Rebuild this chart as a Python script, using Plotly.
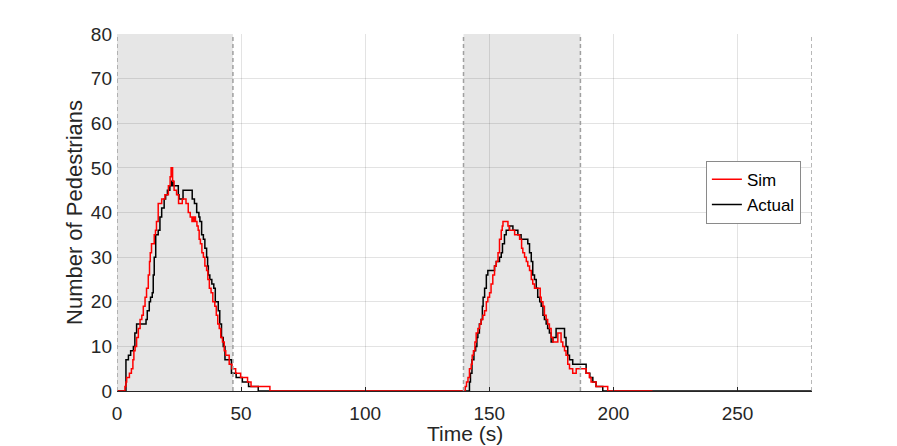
import plotly.graph_objects as go

# Simulated counts (step data, time in s)
sim_t = [0, 3.2, 3.6, 3.9, 5.0, 5.8, 6.4, 6.8, 7.3, 7.9, 8.6, 9.3, 10.0, 10.6, 11.3, 11.9,
         12.6, 13.1, 13.4, 13.9, 15.0, 15.5, 15.9, 16.6, 18.0, 19.3, 20.7, 21.4, 21.8, 22.4,
         23.0, 24.0, 24.8, 26.3, 27.8, 28.7, 29.5, 30.2, 30.5, 30.8, 31.2, 31.6, 32.2, 32.7,
         33.1, 33.6, 34.2, 34.8, 35.4, 36.1, 36.6, 37.2, 37.9, 38.6, 39.4, 40.0, 40.6, 41.2,
         41.8, 42.5, 43.2, 43.8, 45.2, 46.3, 47.8, 49.8, 52.6, 54.0, 61.6,
         140.3, 140.8, 141.4, 142.0, 142.7, 143.1, 143.6, 144.2, 144.7, 145.4, 146.1, 146.7,
         147.4, 148.1, 148.8, 149.4, 150.1, 150.7, 151.4, 152.1, 152.8, 153.5, 154.1, 154.8,
         155.2, 155.5, 157.5, 158.1, 160.2, 162.2, 163.0, 163.5, 164.2, 164.9, 165.5, 166.2,
         166.9, 167.5, 168.2, 170.5, 170.9, 171.6, 172.2, 172.9, 173.5, 174.2, 174.9, 175.6,
         177.6, 178.9, 179.6, 180.3, 180.9, 181.6, 182.3, 183.6, 185.0, 189.0, 190.3, 191.0,
         193.0, 197.7, 215.7]
sim_n = [0, 1, 2, 3, 4, 5, 7, 9, 10, 12, 14, 16, 17, 19, 21, 23,
         26, 29, 31, 33, 35, 36, 38, 42, 43, 44, 46, 48, 50, 47,
         45, 44, 42, 43, 42, 40, 39, 38, 39, 38, 39, 38, 37, 36,
         34, 33, 31, 30, 28, 27, 25, 23, 22, 20, 19, 17, 15, 14,
         12, 11, 9, 8, 6, 5, 4, 3, 2, 1, 0,
         1, 2, 3, 5, 6, 8, 9, 11, 13, 14, 15, 16,
         17, 18, 20, 21, 22, 24, 26, 28, 29, 31, 34, 36,
         37, 38, 37, 36, 35, 34, 32, 31, 30, 29, 28, 27,
         25, 24, 23, 21, 20, 19, 17, 16, 15, 14, 12, 11,
         13, 11, 10, 9, 8, 6, 5, 4, 5, 4, 3, 2,
         1, 0, 0]

# Observed counts
act_t = [0, 3.6, 4.6, 5.5, 6.6, 7.2, 7.9, 11.7, 12.2, 13.0, 13.5, 14.2, 14.6, 15.0, 15.6,
         16.6, 17.3, 18.0, 19.0, 19.6, 20.3, 21.3, 22.0, 22.6, 24.7, 25.0, 26.6, 30.3, 31.2,
         32.1, 33.0, 33.4, 34.1, 34.8, 35.4, 36.1, 36.5, 36.8, 37.4, 38.2, 39.0, 39.6, 40.8,
         41.4, 42.1, 42.8, 43.5, 46.1, 48.0, 50.5, 53.0, 56.9,
         142.0, 142.4, 143.0, 143.8, 144.5, 145.0, 145.4, 146.0, 146.7, 147.2, 147.5, 148.1,
         148.8, 149.4, 152.1, 152.8, 154.1, 154.8, 155.3, 156.1, 156.8, 158.1, 159.5, 161.5,
         162.8, 165.5, 166.2, 166.9, 167.5, 168.2, 168.9, 169.5, 170.3, 170.9, 171.6, 172.2,
         172.9, 173.5, 174.2, 174.9, 175.6, 176.9, 180.3, 180.9, 181.6, 182.3, 183.6, 189.0,
         190.5, 191.7, 193.0, 195.7, 280.0]
act_n = [0, 7, 8, 9, 10, 13, 15, 16, 18, 20, 21, 22, 26, 30, 35,
         36, 39, 41, 43, 44, 45, 46, 47, 46, 44, 43, 45, 43, 42,
         40, 39, 38, 35, 34, 32, 30, 28, 26, 25, 24, 23, 20, 18,
         15, 12, 10, 7, 4, 3, 2, 1, 0,
         2, 4, 7, 9, 10, 12, 13, 15, 16, 19, 21, 23,
         26, 27, 28, 29, 30, 31, 33, 35, 36, 37, 36, 35,
         34, 33, 31, 29, 26, 25, 23, 21, 20, 19, 17, 16,
         15, 14, 13, 11, 12, 14, 12, 10, 8, 7, 6, 4,
         3, 2, 1, 0, 0]

# Shaded (green) phases and phase boundaries
green_start = [0, 139.6]
green_end = [46.7, 186.7]
phase_lines = [0, 46.7, 139.6, 186.7, 280]

font = "Liberation Sans, Arial, sans-serif"

fig = go.Figure()
fig.add_trace(go.Scatter(x=act_t, y=act_n, mode='lines', name='Actual', line_shape='hv',
                         line=dict(color='black', width=1.5), legendrank=2))
fig.add_trace(go.Scatter(x=sim_t, y=sim_n, mode='lines', name='Sim', line_shape='hv',
                         line=dict(color='#ff0000', width=1.5), legendrank=1))

for a, b in zip(green_start, green_end):
    fig.add_vrect(x0=a, x1=b, fillcolor='#e6e6e6', opacity=1, line_width=0, layer='below')
for v in phase_lines:
    fig.add_shape(type='line', x0=v, x1=v, y0=0, y1=80, xref='x', yref='y',
                  line=dict(color='#a0a0a0', width=1.5, dash='4px,3px'))

# page body has an 8px margin, so margins are shifted to land the axes where the original sits
fig.update_layout(
    width=897, height=446,
    margin=dict(l=109, r=93, t=26, b=63),
    paper_bgcolor='white', plot_bgcolor='white',
    font=dict(family=font, size=19, color='#262626'),
    showlegend=True,
    legend=dict(x=0.984, y=0.645, xanchor='right', yanchor='top',
                bgcolor='white', bordercolor='#8a8a8a', borderwidth=1,
                font=dict(size=17, color='black'), itemwidth=30,
                tracegroupgap=0),
)
fig.update_xaxes(range=[0, 280], tickvals=[0, 50, 100, 150, 200, 250],
                 showgrid=True, gridcolor='rgba(38,38,38,0.13)', gridwidth=1,
                 zeroline=False, showline=True, linecolor='#262626', linewidth=1,
                 ticks='inside', ticklen=4, tickcolor='#262626', automargin=False,
                 ticklabelstandoff=5)
fig.update_yaxes(range=[0, 80], tickvals=list(range(0, 81, 10)),
                 showgrid=True, gridcolor='rgba(38,38,38,0.13)', gridwidth=1,
                 zeroline=False, showline=False, ticks='', automargin=False,
                 ticklabelstandoff=4,
                 title=dict(text='Number of Pedestrians', standoff=2, font=dict(size=22)))

# x title placed by hand, a little tighter under the tick labels
fig.add_annotation(text='Time (s)', xref='paper', yref='paper', x=0.5, y=0,
                   xanchor='center', yanchor='top', yshift=-29, showarrow=False,
                   font=dict(size=21, color='#262626'))

fig.write_html("out.html")
